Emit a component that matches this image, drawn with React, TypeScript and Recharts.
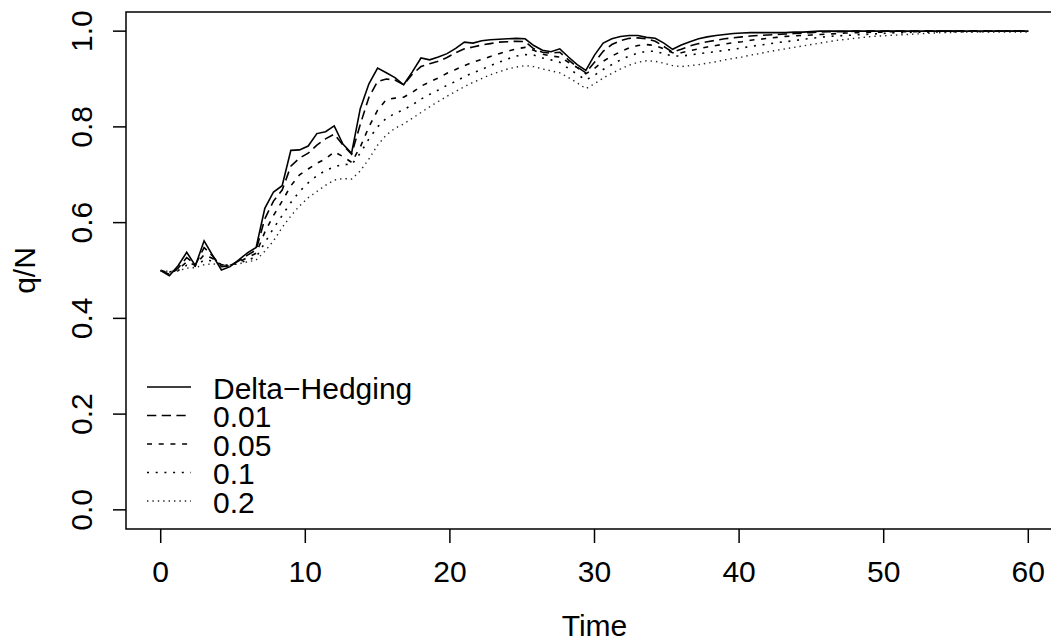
import React from 'react';
import { LineChart, Line, XAxis, YAxis, ReferenceArea, Customized } from 'recharts';

const FONT = '"Liberation Sans", Arial, Helvetica, sans-serif';

// Time grid (category axis values)
const TIME = [
  0, 0.6, 1.2, 1.8, 2.4, 3, 3.6, 4.2, 4.8, 5.4,
  6, 6.6, 7.2, 7.8, 8.4, 9, 9.6, 10.2, 10.8, 11.4,
  12, 12.6, 13.2, 13.8, 14.4, 15, 15.6, 16.2, 16.8, 17.4,
  18, 18.6, 19.2, 19.8, 20.4, 21, 21.6, 22.2, 22.8, 23.4,
  24, 24.6, 25.2, 25.8, 26.4, 27, 27.6, 28.2, 28.8, 29.4,
  30, 30.6, 31.2, 31.8, 32.4, 33, 33.6, 34.2, 34.8, 35.4,
  36, 36.6, 37.2, 37.8, 38.4, 39, 39.6, 40.2, 40.8, 41.4,
  42, 42.6, 43.2, 43.8, 44.4, 45, 45.6, 46.2, 46.8, 47.4,
  48, 48.6, 49.2, 49.8, 50.4, 51, 51.6, 52.2, 52.8, 53.4,
  54, 54.6, 55.2, 55.8, 56.4, 57, 57.6, 58.2, 58.8, 59.4,
  60,
];

const DELTA_HEDGING = [
  0.500, 0.489, 0.510, 0.538, 0.510, 0.562, 0.531, 0.501, 0.508, 0.522,
  0.537, 0.548, 0.630, 0.664, 0.677, 0.751, 0.752, 0.760, 0.786, 0.790,
  0.802, 0.764, 0.745, 0.838, 0.890, 0.923, 0.913, 0.903, 0.888, 0.915,
  0.944, 0.940, 0.946, 0.953, 0.964, 0.977, 0.975, 0.980, 0.982, 0.983,
  0.984, 0.985, 0.984, 0.970, 0.960, 0.957, 0.963, 0.946, 0.930, 0.918,
  0.950, 0.975, 0.984, 0.989, 0.991, 0.991, 0.987, 0.985, 0.975, 0.962,
  0.971, 0.978, 0.984, 0.988, 0.991, 0.993, 0.995, 0.996, 0.997, 0.997,
  0.997, 0.997, 0.997, 0.998, 0.998, 0.999, 1, 1, 1, 1,
  1, 1, 1, 1, 1, 1, 1, 1, 1, 1,
  1, 1, 1, 1, 1, 1, 1, 1, 1, 1,
  1,
];

const RATE_001 = [
  0.500, 0.492, 0.505, 0.527, 0.512, 0.548, 0.530, 0.508, 0.510, 0.520,
  0.532, 0.543, 0.608, 0.645, 0.668, 0.718, 0.735, 0.745, 0.762, 0.775,
  0.785, 0.762, 0.743, 0.805, 0.862, 0.895, 0.900, 0.898, 0.888, 0.910,
  0.926, 0.932, 0.937, 0.945, 0.955, 0.963, 0.967, 0.971, 0.974, 0.977,
  0.978, 0.979, 0.978, 0.963, 0.956, 0.954, 0.956, 0.940, 0.925, 0.913,
  0.935, 0.958, 0.972, 0.980, 0.985, 0.986, 0.984, 0.979, 0.968, 0.956,
  0.962, 0.969, 0.974, 0.978, 0.981, 0.984, 0.986, 0.988, 0.990, 0.991,
  0.992, 0.993, 0.994, 0.995, 0.996, 0.997, 0.998, 0.999, 0.999, 0.999,
  1, 1, 1, 1, 1, 1, 1, 1, 1, 1,
  1, 1, 1, 1, 1, 1, 1, 1, 1, 1,
  1,
];

const RATE_005 = [
  0.500, 0.495, 0.502, 0.518, 0.511, 0.533, 0.525, 0.512, 0.511, 0.518,
  0.527, 0.536, 0.580, 0.615, 0.645, 0.677, 0.700, 0.712, 0.724, 0.733,
  0.748, 0.738, 0.726, 0.758, 0.800, 0.835, 0.857, 0.860, 0.862, 0.872,
  0.885, 0.894, 0.902, 0.912, 0.920, 0.928, 0.935, 0.941, 0.947, 0.953,
  0.958, 0.963, 0.966, 0.960, 0.952, 0.948, 0.946, 0.935, 0.924, 0.911,
  0.922, 0.937, 0.948, 0.957, 0.965, 0.970, 0.972, 0.970, 0.963, 0.955,
  0.955, 0.959, 0.963, 0.967, 0.970, 0.973, 0.976, 0.978, 0.981, 0.983,
  0.985, 0.987, 0.989, 0.990, 0.991, 0.992, 0.993, 0.994, 0.995, 0.996,
  0.997, 0.997, 0.998, 0.998, 0.999, 0.999, 0.999, 0.999, 1, 1,
  1, 1, 1, 1, 1, 1, 1, 1, 1, 1,
  1,
];

const RATE_01 = [
  0.500, 0.497, 0.500, 0.511, 0.509, 0.522, 0.520, 0.512, 0.511, 0.515,
  0.522, 0.528, 0.558, 0.588, 0.615, 0.642, 0.665, 0.683, 0.698, 0.709,
  0.716, 0.722, 0.721, 0.745, 0.775, 0.800, 0.818, 0.828, 0.836, 0.846,
  0.858, 0.868, 0.877, 0.887, 0.895, 0.905, 0.913, 0.920, 0.928, 0.935,
  0.942, 0.948, 0.951, 0.950, 0.944, 0.940, 0.935, 0.922, 0.910, 0.898,
  0.908, 0.920, 0.930, 0.940, 0.948, 0.954, 0.958, 0.958, 0.953, 0.948,
  0.948, 0.950, 0.953, 0.955, 0.957, 0.960, 0.962, 0.965, 0.968, 0.971,
  0.973, 0.976, 0.978, 0.980, 0.983, 0.985, 0.987, 0.989, 0.990, 0.991,
  0.992, 0.993, 0.994, 0.995, 0.996, 0.997, 0.997, 0.998, 0.998, 0.998,
  0.999, 0.999, 0.999, 0.999, 0.999, 0.999, 1, 1, 1, 1,
  1,
];

const RATE_02 = [
  0.500, 0.498, 0.499, 0.505, 0.506, 0.512, 0.514, 0.511, 0.511, 0.514,
  0.518, 0.522, 0.540, 0.562, 0.590, 0.614, 0.635, 0.652, 0.665, 0.678,
  0.689, 0.692, 0.691, 0.708, 0.733, 0.762, 0.783, 0.797, 0.806, 0.818,
  0.830, 0.842, 0.853, 0.864, 0.874, 0.884, 0.893, 0.901, 0.909, 0.915,
  0.921, 0.925, 0.928, 0.926, 0.921, 0.917, 0.913, 0.903, 0.892, 0.880,
  0.890, 0.902, 0.912, 0.921, 0.929, 0.935, 0.938, 0.937, 0.933, 0.928,
  0.926, 0.928, 0.930, 0.933, 0.936, 0.940, 0.943, 0.946, 0.950, 0.953,
  0.957, 0.960, 0.963, 0.966, 0.969, 0.972, 0.975, 0.978, 0.981, 0.983,
  0.985, 0.987, 0.989, 0.990, 0.991, 0.992, 0.993, 0.994, 0.995, 0.996,
  0.997, 0.997, 0.998, 0.998, 0.998, 0.998, 0.998, 0.998, 0.998, 0.998,
  0.998,
];

const SERIES_KEYS = ['dh', 'r001', 'r005', 'r01', 'r02'];
const SERIES_NAMES = ['Delta\u2212Hedging', '0.01', '0.05', '0.1', '0.2'];
const SERIES_VALUES = [DELTA_HEDGING, RATE_001, RATE_005, RATE_01, RATE_02];

const X_TICKS = [0, 10, 20, 30, 40, 50, 60];
const Y_TICKS = [0, 0.2, 0.4, 0.6, 0.8, 1.0];
const X_TITLE = 'Time';
const Y_TITLE = 'q/N';

// styles
const DASHES = [undefined, '9.3 5.4', '5 6.7', '2 6.7', '1.4 4'];
const COLORS = ['#000', '#000', '#000', '#000', '#222'];
const WIDTHS = [1.6, 1.6, 1.6, 1.6, 1.4];

const data = TIME.map((t, i) => {
  const row: Record<string, number> = { t };
  SERIES_KEYS.forEach((k, s) => {
    row[k] = SERIES_VALUES[s][i];
  });
  return row;
});

const XTick = (props: any) => (
  <text
    x={props.x}
    y={props.y}
    dy={38.5}
    textAnchor="middle"
    fontSize={30}
    fontFamily={FONT}
    fill="#000"
  >
    {props.payload.value}
  </text>
);

const YTick = (props: any) => (
  <text
    transform={`translate(${props.x - 21},${props.y}) rotate(-90)`}
    textAnchor="middle"
    fontSize={30}
    fontFamily={FONT}
    fill="#000"
  >
    {Number(props.payload.value).toFixed(1)}
  </text>
);

const XTitle = (props: any) => {
  const vb = props.viewBox || { x: 126, y: 529, width: 937, height: 109 };
  return (
    <text
      x={vb.x + vb.width / 2}
      y={vb.y + vb.height - 2}
      textAnchor="middle"
      fontSize={30}
      fontFamily={FONT}
      fill="#000"
    >
      {X_TITLE}
    </text>
  );
};

const YTitle = (props: any) => {
  const vb = props.viewBox || { x: 0, y: 12, width: 126, height: 517 };
  const cy = vb.y + vb.height / 2;
  return (
    <text
      transform={`translate(35,${cy}) rotate(-90)`}
      textAnchor="middle"
      fontSize={30}
      fontFamily={FONT}
      fill="#000"
    >
      {Y_TITLE}
    </text>
  );
};

const LEG_X1 = 147;
const LEG_X2 = 191;
const LEG_TEXT_X = 213;
const LEG_Y0 = 387;
const LEG_STEP = 28.5;

const LegendBlock = () => (
  <g>
    {SERIES_NAMES.map((name, i) => {
      const y = LEG_Y0 + i * LEG_STEP;
      return (
        <g key={name}>
          <line
            x1={LEG_X1}
            x2={LEG_X2}
            y1={y}
            y2={y}
            stroke={COLORS[i]}
            strokeWidth={WIDTHS[i]}
            strokeDasharray={DASHES[i]}
          />
          <text
            x={LEG_TEXT_X}
            y={y + 11.5}
            fontSize={30}
            fontFamily={FONT}
            fill="#000"
          >
            {name}
          </text>
        </g>
      );
    })}
  </g>
);

export default function App() {
  return (
    <div
      style={{
        position: 'absolute',
        left: 0,
        top: 0,
        width: 1051,
        height: 638,
        overflow: 'hidden',
        background: '#fff',
      }}
    >
      <LineChart
        width={1080}
        height={638}
        data={data}
        margin={{ top: 12, right: 17, bottom: 0, left: 0 }}
      >
        <XAxis
          dataKey="t"
          type="number"
          domain={[-2.4, 62.4]}
          ticks={X_TICKS}
          interval={0}
          allowDataOverflow
          height={109}
          tickSize={14}
          tickMargin={0}
          axisLine={false}
          tickLine={{ stroke: '#000', strokeWidth: 1.5 }}
          tick={XTick}
          label={{ content: XTitle }}
        />
        <YAxis
          type="number"
          domain={[-0.04, 1.04]}
          ticks={Y_TICKS}
          interval={0}
          allowDataOverflow
          width={126}
          tickSize={13}
          tickMargin={0}
          axisLine={false}
          tickLine={{ stroke: '#000', strokeWidth: 1.5 }}
          tick={YTick}
          label={{ content: YTitle }}
        />
        <ReferenceArea
          x1={-2.4}
          x2={62.4}
          y1={-0.04}
          y2={1.04}
          fill="none"
          fillOpacity={0}
          stroke="#000"
          strokeWidth={1.5}
          ifOverflow="visible"
        />
        {SERIES_KEYS.map((k, i) => (
          <Line
            key={k}
            dataKey={k}
            name={SERIES_NAMES[i]}
            type="linear"
            stroke={COLORS[i]}
            strokeWidth={WIDTHS[i]}
            strokeDasharray={DASHES[i]}
            dot={false}
            activeDot={false}
            isAnimationActive={false}
          />
        ))}
        <Customized component={LegendBlock} />
      </LineChart>
    </div>
  );
}
